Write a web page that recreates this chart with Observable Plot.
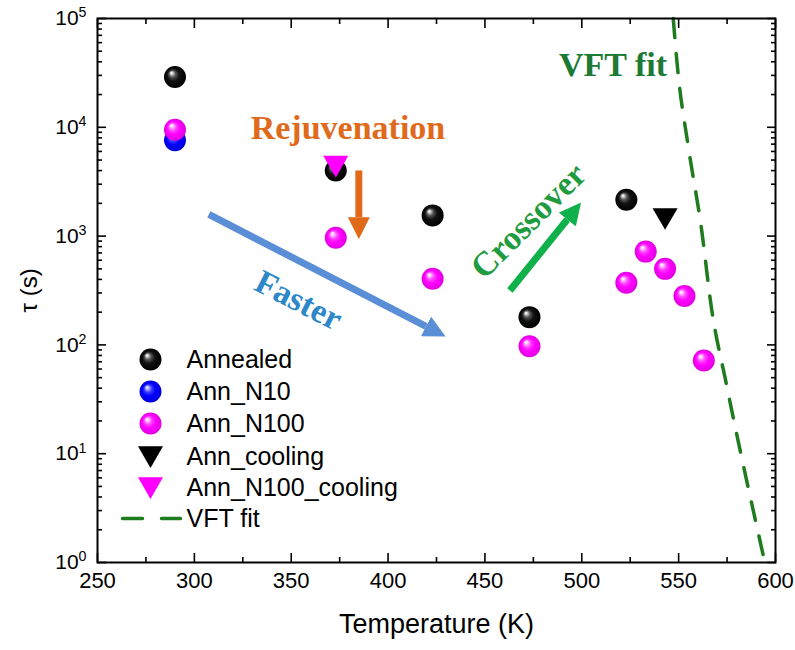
<!DOCTYPE html>
<html><head><meta charset="utf-8">
<script src="https://cdn.jsdelivr.net/npm/d3@7"></script>
<script src="https://cdn.jsdelivr.net/npm/@observablehq/plot@0.6"></script>
<style>
html,body{margin:0;padding:0;background:#fff;}
#chart{width:795px;height:650px;}
</style></head><body><div id="chart"></div>
<script>
// ---- data ----
const tAnnealed = [290, 373, 423, 473, 523];
const tauAnnealed = [29000, 4000, 1550, 180, 2160];
const tN10 = [290];
const tauN10 = [7600];
const tN100 = [290, 373, 423, 473, 523, 533, 543, 553, 563];
const tauN100 = [9500, 965, 405, 97, 372, 720, 500, 281, 72];
const tAnnCooling = [543];
const tauAnnCooling = [1550];
const tN100Cooling = [373];
const tauN100Cooling = [4700];
const tVFT = [547.2, 549.4, 555.3, 561.7, 566.9, 574.6, 594.5];
const tauVFT = [100000, 35500, 6120, 1200, 221, 44, 1];

const xTicks = [250, 300, 350, 400, 450, 500, 550, 600];
const xMinor = [275, 325, 375, 425, 475, 525, 575];
const yTicks = [1, 10, 100, 1000, 10000, 100000];
const yMinor = [];
for (let e = 0; e < 5; e++) for (let m = 2; m <= 9; m++) yMinor.push(m * 10 ** e);

const legendLabels = ["Annealed", "Ann_N10", "Ann_N100", "Ann_cooling", "Ann_N100_cooling", "VFT fit"];
const xLabel = "Temperature (K)";
const yLabel = "τ (s)";

// annotations (data coordinates)
const notes = [
  {text: "Rejuvenation", x: 379.3, y: 9750, rotate: 0, color: "#df6a1c"},
  {text: "Faster", x: 353.8, y: 256, rotate: 27, color: "#2c88c9"},
  {text: "Crossover", x: 472.5, y: 1380, rotate: -45, color: "#1f9b40"},
  {text: "VFT fit", x: 516.1, y: 37000, rotate: 0, color: "#1c7a33"}
];
const arrows = [
  {id: "orange", x1: 384.9, y1: 4010, x2: 384.9, y2: 1493, color: "#e06a1a"},
  {id: "blue", x1: 307.5, y1: 1581, x2: 419.6, y2: 148, color: "#5a8ed6"},
  {id: "green", x1: 462.9, y1: 316, x2: 492.5, y2: 1420, color: "#10b04b"}
];

const pts = (xs, ys) => xs.map((x, i) => ({x, y: ys[i]}));

const W = 795, H = 650, mL = 97, mR = 20, mT = 18, mB = 88;
const sans = "Liberation Sans, Arial, sans-serif";
const serif = "Liberation Serif, Times New Roman, serif";
const green = "#1e7b1e";
// marker colours used as tags, replaced by sphere gradients afterwards
const tagBlack = "#010101", tagBlue = "#0000fe", tagMagenta = "#fe00fe";

const marks = [];
// inward ticks on all four sides
const tk = {label: null, tickFormat: () => "", strokeWidth: 1.6};
marks.push(Plot.axisX(xTicks, {...tk, anchor: "bottom", tickSize: -9}));
marks.push(Plot.axisX(xMinor, {...tk, anchor: "bottom", tickSize: -5}));
marks.push(Plot.axisX(xTicks, {...tk, anchor: "top", tickSize: -9}));
marks.push(Plot.axisX(xMinor, {...tk, anchor: "top", tickSize: -5}));
marks.push(Plot.axisY(yTicks, {...tk, anchor: "left", tickSize: -9}));
marks.push(Plot.axisY(yMinor, {...tk, anchor: "left", tickSize: -5}));
marks.push(Plot.axisY(yTicks, {...tk, anchor: "right", tickSize: -9}));
marks.push(Plot.axisY(yMinor, {...tk, anchor: "right", tickSize: -5}));
// tick labels
marks.push(Plot.axisX(xTicks, {anchor: "bottom", tickSize: 0, tickPadding: 10, label: null, fontSize: 22, tickFormat: d => String(d)}));
marks.push(Plot.axisY(yTicks, {anchor: "left", tickSize: 0, tickPadding: 11, label: null, fontSize: 21, tickFormat: d => "10^" + Math.round(Math.log10(d))}));
// axis titles
marks.push(Plot.text([xLabel], {frameAnchor: "bottom", text: d => d, dy: 70, fontSize: 27, fontFamily: sans}));
marks.push(Plot.text([yLabel], {frameAnchor: "left", text: d => d, rotate: -90, dx: -68, dy: 22, fontSize: 24, fontFamily: sans}));

// VFT fit line
marks.push(Plot.line(pts(tVFT, tauVFT), {x: "x", y: "y", stroke: green, strokeWidth: 3.5, strokeDasharray: "19,16", curve: "monotone-x"}));

// data
marks.push(Plot.dot(pts(tAnnealed, tauAnnealed), {x: "x", y: "y", r: 11, fill: tagBlack}));
marks.push(Plot.dot(pts(tN10, tauN10), {x: "x", y: "y", r: 11, fill: tagBlue}));
marks.push(Plot.dot(pts(tN100, tauN100), {x: "x", y: "y", r: 11, fill: tagMagenta}));
marks.push(Plot.dot(pts(tAnnCooling, tauAnnCooling), {x: "x", y: "y", r: 9.3, symbol: "triangle", rotate: 180, fill: "black"}));
marks.push(Plot.dot(pts(tN100Cooling, tauN100Cooling), {x: "x", y: "y", r: 9.3, symbol: "triangle", rotate: 180, fill: "#ff00ff"}));

// annotation arrows and texts
for (const a of arrows) {
  marks.push(Plot.link([a], {x1: "x1", y1: "y1", x2: "x2", y2: "y2", stroke: a.color, strokeWidth: 7}));
}
for (const n of notes) {
  marks.push(Plot.text([n], {x: "x", y: "y", text: "text", rotate: n.rotate, fill: n.color, fontFamily: serif, fontWeight: "bold", fontSize: 34}));
}

// legend
const rowDy = [341, 373, 405, 438, 469, 500];
const legendKinds = [
  {fill: tagBlack},
  {fill: tagBlue},
  {fill: tagMagenta},
  {fill: "black", tri: true},
  {fill: "#ff00ff", tri: true},
  {line: true}
];
legendLabels.forEach((lab, i) => {
  const k = legendKinds[i];
  if (k.line) {
    marks.push(Plot.vector([0], {frameAnchor: "top-left", dx: 25, dy: rowDy[i], length: 58, rotate: 90, anchor: "start", stroke: green, strokeWidth: 3.5, strokeDasharray: "20,19",
      shape: {draw(ctx, l) { ctx.moveTo(0, 0); ctx.lineTo(0, -l); }}}));
  } else if (k.tri) {
    marks.push(Plot.dot([0], {frameAnchor: "top-left", dx: 53, dy: rowDy[i] - 3, r: 9.3, symbol: "triangle", rotate: 180, fill: k.fill}));
  } else {
    marks.push(Plot.dot([0], {frameAnchor: "top-left", dx: 53, dy: rowDy[i], r: 11, fill: k.fill}));
  }
  marks.push(Plot.text([lab], {frameAnchor: "top-left", text: d => d, dx: 89, dy: rowDy[i], textAnchor: "start", lineAnchor: "middle", fontSize: 25, fontFamily: sans}));
});

marks.push(Plot.frame({stroke: "black", strokeWidth: 2}));

const svg = Plot.plot({
  width: W, height: H,
  marginLeft: mL, marginRight: mR, marginTop: mT, marginBottom: mB,
  style: {fontFamily: sans, fontSize: "21px", color: "black", background: "white"},
  x: {domain: [250, 600], axis: null},
  y: {type: "log", domain: [1, 100000], axis: null},
  marks
});

// post-processing: sphere gradients, arrow heads, superscripts
const s = d3.select(svg);
const defs = s.insert("defs", ":first-child");
function ball(id, tag, stops) {
  const g = defs.append("radialGradient").attr("id", id)
    .attr("cx", "0.5").attr("cy", "0.5").attr("r", "0.5").attr("fx", "0.33").attr("fy", "0.3");
  stops.forEach(([o, c]) => g.append("stop").attr("offset", o).attr("stop-color", c));
  s.selectAll(`[fill="${tag}"]`).attr("fill", `url(#${id})`);
}
ball("gBlack", tagBlack, [[0, "#ffffff"], [0.1, "#dddddd"], [0.3, "#555555"], [0.55, "#111111"], [1, "#000000"]]);
ball("gBlue", tagBlue, [[0, "#ffffff"], [0.12, "#c4c4ff"], [0.35, "#3a3aff"], [0.6, "#0000ff"], [1, "#0000d8"]]);
ball("gMagenta", tagMagenta, [[0, "#ffffff"], [0.12, "#ffd2ff"], [0.35, "#ff44ff"], [0.6, "#ff00ff"], [1, "#e000e0"]]);

for (const a of arrows) {
  const m = defs.append("marker").attr("id", "ah-" + a.id)
    .attr("viewBox", "0 0 22 22").attr("refX", 0).attr("refY", 11)
    .attr("markerWidth", 22).attr("markerHeight", 22)
    .attr("markerUnits", "userSpaceOnUse").attr("orient", "auto");
  m.append("path").attr("d", "M0,0L22,11L0,22Z").attr("fill", a.color);
  s.selectAll(`g[stroke="${a.color}"] path, path[stroke="${a.color}"]`).attr("marker-end", `url(#ah-${a.id})`);
}

s.selectAll("text").each(function () {
  const m = /^10\^(-?\d+)$/.exec(this.textContent);
  if (m) {
    const t = d3.select(this);
    t.text("10");
    t.append("tspan").attr("dy", "-0.55em").attr("font-size", "0.68em").text(m[1]);
  }
});

document.getElementById("chart").appendChild(svg);
</script>
</body></html>
